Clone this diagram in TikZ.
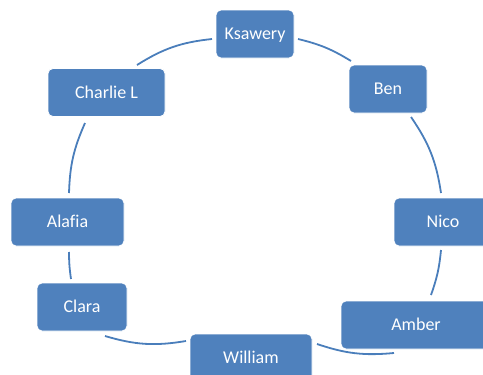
\documentclass[tikz,border=0pt]{standalone}
\usepackage{fontspec}
\setmainfont[Ligatures=NoCommon]{Carlito}
\definecolor{boxblue}{HTML}{4F81BD}
\definecolor{arcblue}{HTML}{4A7EBB}
\begin{document}
\begin{tikzpicture}[x=1pt,y=-1pt,
  person/.style={rectangle, rounded corners=5pt, fill=boxblue, draw=white, line width=0.8pt,
    text=white, font=\fontsize{18}{20}\selectfont, minimum height=48pt, inner sep=0pt,
    text height=11.6pt, text depth=0pt},
  link/.style={draw=arcblue, line width=1.8pt}]
\useasboundingbox (0,0) rectangle (483,375);
\clip (0,0) rectangle (483,375);
% people
\node[person, minimum width=78pt]  (ksawery) at (255,34)     {Ksawery};
\node[person, minimum width=117pt] (charlie) at (106.5,92.5) {Charlie L};
\node[person, minimum width=78pt]  (ben)     at (388,89)     {Ben};
\node[person, minimum width=113pt] (alafia)  at (67.5,222)   {Alafia};
\node[person, minimum width=98pt]  (nico)    at (443,222)    {Nico};
\node[person, minimum width=90pt]  (clara)   at (82,307)     {Clara};
\node[person, minimum width=150pt] (amber)   at (416,325)    {Amber};
\node[person, minimum width=122pt] (william) at (251,358)    {William};
% arc end points
\coordinate (ck1) at (137,65);  \coordinate (ck2) at (212,39);
\coordinate (kb1) at (298,39);  \coordinate (kb2) at (351,61);
\coordinate (bn1) at (411,117); \coordinate (bn2) at (441,193);
\coordinate (na1) at (441,250); \coordinate (na2) at (431,295);
\coordinate (aw1) at (394,353); \coordinate (aw2) at (317,344);
\coordinate (wc1) at (186,341); \coordinate (wc2) at (105,336);
\coordinate (cl1) at (71,279);  \coordinate (cl2) at (69,252);
\coordinate (lc1) at (69,193);  \coordinate (lc2) at (85,123);
% arcs
\draw[link] (ck1) to[bend left=13] (ck2);
\draw[link] (kb1) to[bend left=9]  (kb2);
\draw[link] (bn1) to[bend left=13] (bn2);
\draw[link] (na1) to[bend left=7]  (na2);
\draw[link] (aw1) to[bend left=12] (aw2);
\draw[link] (wc1) to[bend left=13] (wc2);
\draw[link] (cl1) to[bend left=4]  (cl2);
\draw[link] (lc1) to[bend left=11] (lc2);
\end{tikzpicture}
\end{document}
